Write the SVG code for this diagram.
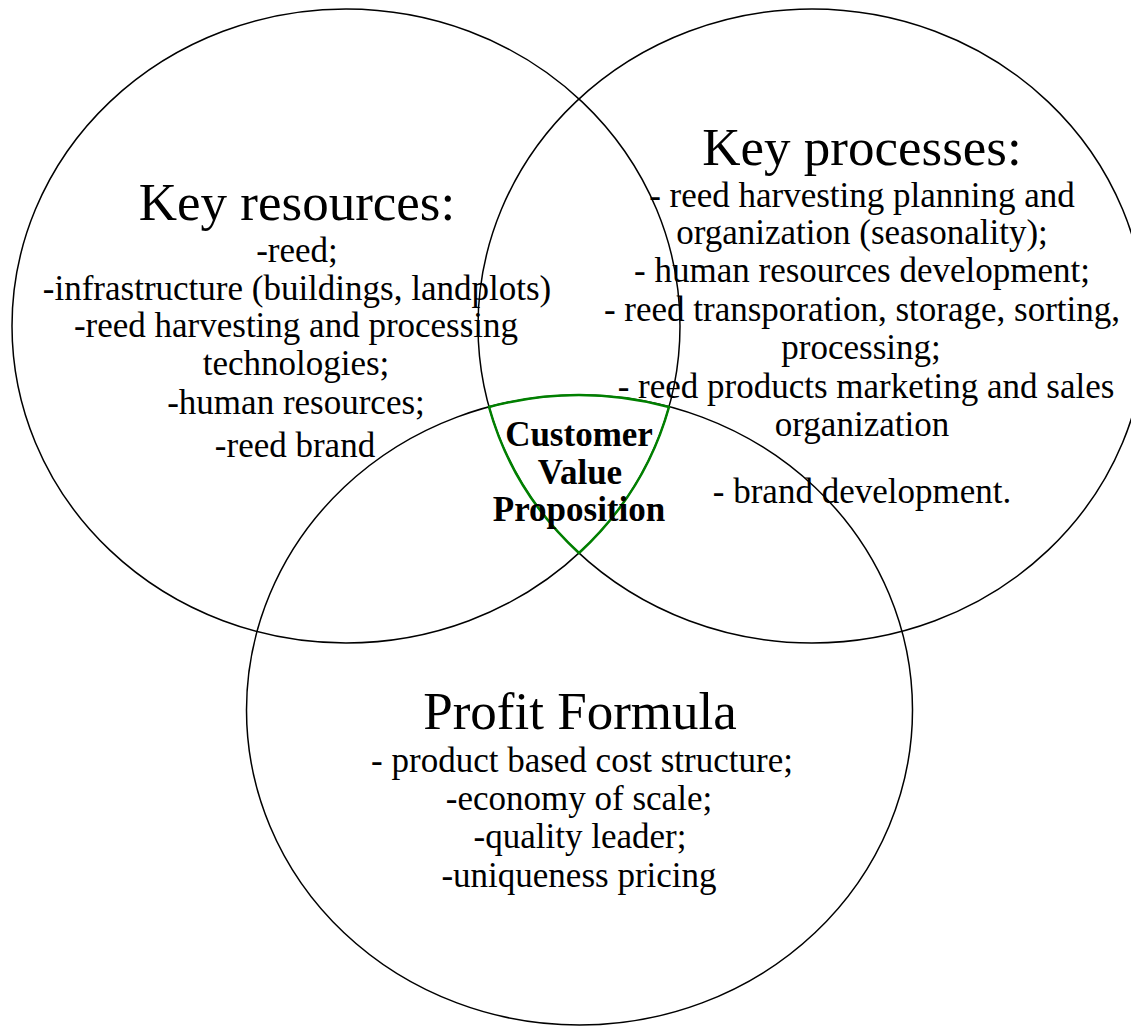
<svg xmlns="http://www.w3.org/2000/svg" width="1131" height="1026" viewBox="0 0 1131 1026">
<style>
.circ{fill:none;stroke:#000;stroke-width:1.5}
.cvp{fill:none;stroke:#008000;stroke-width:2.5}
text{font-family:"Liberation Serif","Times New Roman",serif;fill:#000;text-anchor:middle}
.h{font-size:53px}
.b{font-size:35px}
.bold{font-size:35px;font-weight:bold}
</style>
<rect width="1131" height="1026" fill="#fff"/>
<g id="key-resources">
<ellipse class="circ" cx="346" cy="326" rx="334" ry="317"/>
<text class="h" x="297" y="220">Key resources:</text>
<text class="b" x="297" y="262">-reed;</text>
<text class="b" x="297" y="300">-infrastructure (buildings, landplots)</text>
<text class="b" x="296" y="337">-reed harvesting and processing</text>
<text class="b" x="296" y="375">technologies;</text>
<text class="b" x="296" y="414">-human resources;</text>
<text class="b" x="295" y="457">-reed brand</text>
</g>
<g id="key-processes">
<ellipse class="circ" cx="812" cy="326" rx="334" ry="317"/>
<text class="h" x="862" y="165">Key processes:</text>
<text class="b" x="862" y="207">- reed harvesting planning and</text>
<text class="b" x="862" y="244">organization (seasonality);</text>
<text class="b" x="862" y="282">- human resources development;</text>
<text class="b" x="862" y="321">- reed transporation, storage, sorting,</text>
<text class="b" x="861" y="359">processing;</text>
<text class="b" x="866" y="398">- reed products marketing and sales</text>
<text class="b" x="862" y="436">organization</text>
<text class="b" x="862" y="503">- brand development.</text>
</g>
<g id="profit-formula">
<ellipse class="circ" cx="579.5" cy="710" rx="333" ry="315"/>
<text class="h" x="580" y="729">Profit Formula</text>
<text class="b" x="582" y="772">- product based cost structure;</text>
<text class="b" x="579" y="810">-economy of scale;</text>
<text class="b" x="580" y="848">-quality leader;</text>
<text class="b" x="579" y="887">-uniqueness pricing</text>
</g>
<g id="customer-value-proposition">
<path class="cvp" d="M489,407 A333,315 0 0 1 669,407 A334,317 0 0 1 579,553 A334,317 0 0 1 489,407 Z"/>
<text class="bold" x="579" y="446">Customer</text>
<text class="bold" x="580" y="484">Value</text>
<text class="bold" x="579" y="521">Proposition</text>
</g>
</svg>
